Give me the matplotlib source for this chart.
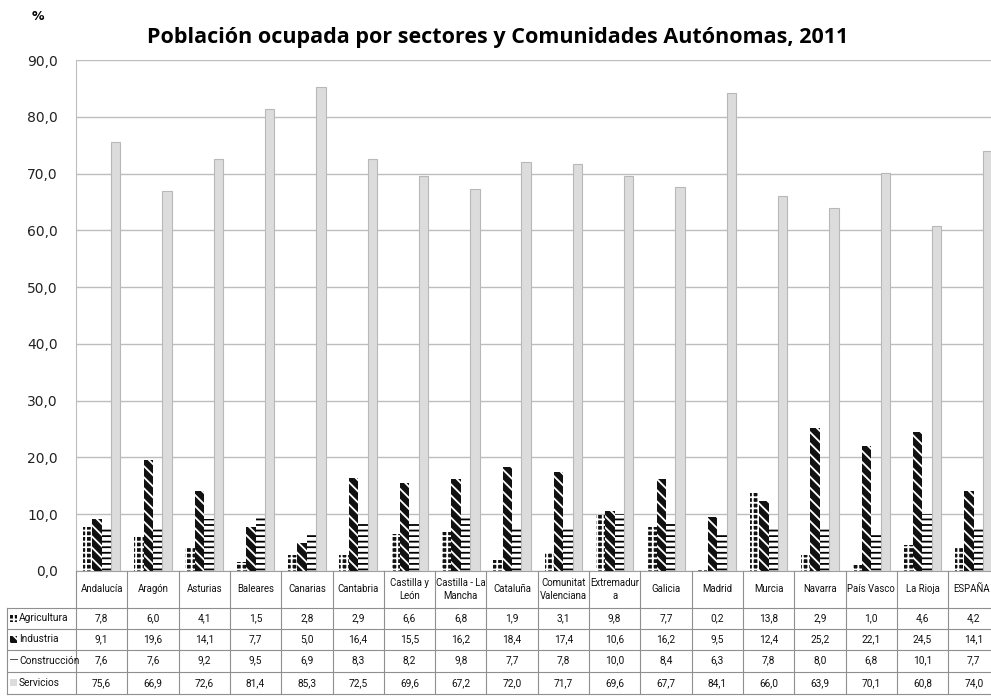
import numpy as np
import matplotlib.pyplot as plt
from matplotlib.patches import Rectangle
from matplotlib.lines import Line2D
from matplotlib import transforms

# data
comunidades = ["Andalucía", "Aragón", "Asturias", "Baleares", "Canarias", "Cantabria",
               "Castilla y\nLeón", "Castilla - La\nMancha", "Cataluña", "Comunitat\nValenciana",
               "Extremadur\na", "Galicia", "Madrid", "Murcia", "Navarra", "País Vasco",
               "La Rioja", "ESPAÑA"]
agricultura = [7.8, 6.0, 4.1, 1.5, 2.8, 2.9, 6.6, 6.8, 1.9, 3.1, 9.8, 7.7, 0.2, 13.8, 2.9, 1.0, 4.6, 4.2]
industria = [9.1, 19.6, 14.1, 7.7, 5.0, 16.4, 15.5, 16.2, 18.4, 17.4, 10.6, 16.2, 9.5, 12.4, 25.2, 22.1, 24.5, 14.1]
construccion = [7.6, 7.6, 9.2, 9.5, 6.9, 8.3, 8.2, 9.8, 7.7, 7.8, 10.0, 8.4, 6.3, 7.8, 8.0, 6.8, 10.1, 7.7]
servicios = [75.6, 66.9, 72.6, 81.4, 85.3, 72.5, 69.6, 67.2, 72.0, 71.7, 69.6, 67.7, 84.1, 66.0, 63.9, 70.1, 60.8, 74.0]
sectores = ["Agricultura", "Industria", "Construcción", "Servicios"]
yticks = np.arange(0, 91, 10)

plt.rcParams["hatch.linewidth"] = 1.3

W, H = 991, 696
fig = plt.figure(figsize=(W / 100, H / 100), dpi=100)

def fy(py):
    return 1 - py / H

ax_left, ax_right, ax_top, ax_bot = 76, 999.4, 60, 571
ax = fig.add_axes([ax_left / W, fy(ax_bot), (ax_right - ax_left) / W, (ax_bot - ax_top) / H])

n = len(comunidades)
x = np.arange(n)
w = 0.183
styles = [
    dict(facecolor="#111111", edgecolor="white", hatch="+++", linewidth=0),
    dict(facecolor="#111111", edgecolor="white", hatch="\\\\\\", linewidth=0),
    dict(facecolor="white", edgecolor="black", hatch="---", linewidth=0),
    dict(facecolor="#dcdcdc", edgecolor="#b8b8b8", linewidth=0.8),
]
series = [agricultura, industria, construccion, servicios]
for k, (vals, st) in enumerate(zip(series, styles)):
    ax.bar(x + (k - 1.5) * w, vals, width=w, zorder=3, **st)

ax.set_xlim(-0.5, n - 0.5)
ax.set_ylim(0, 90)
ax.set_yticks(yticks)
ax.set_yticklabels([f"{v:.1f}".replace(".", ",") for v in yticks], fontsize=10, color="#222222")
ax.tick_params(axis="y", length=0, pad=13)
ax.set_xticks([])
ax.grid(axis="y", color="#bdbdbd", linewidth=1, zorder=0)
for s in ["top", "right"]:
    ax.spines[s].set_visible(False)
ax.spines["left"].set_color("#bdbdbd")
ax.spines["bottom"].set_color("#a0a0a0")

fig.text(498 / W, fy(38), "Población ocupada por sectores y Comunidades Autónomas, 2011",
         ha="center", va="center", fontsize=15.5, fontweight="bold", family="Open Sans")
fig.text(38 / W, fy(16), "%", ha="center", va="center", fontsize=9, fontweight="bold")

# data table under the axes
tr = transforms.blended_transform_factory(ax.transData, fig.transFigure)
tfont = dict(family=["Roboto", "DejaVu Sans"], fontsize=7.3, color="#111111")
hfont = dict(tfont, fontsize=6.9)
line_c = "#8f8f8f"
row_lines = [608, 628.5, 649.5, 671.5, 694]
row_mid = [(row_lines[i] + row_lines[i + 1]) / 2 for i in range(4)]

for i in range(n + 1):
    fig.add_artist(Line2D([i - 0.5, i - 0.5], [fy(ax_bot), fy(694)], transform=tr, color=line_c, lw=0.8))
for py in row_lines:
    fig.add_artist(Line2D([7 / W, 1], [fy(py), fy(py)], transform=fig.transFigure, color=line_c, lw=0.8))
fig.add_artist(Line2D([7 / W, 7 / W], [fy(608), fy(694)], transform=fig.transFigure, color=line_c, lw=0.8))

for i, name in enumerate(comunidades):
    fig.text(i - 0.04 * (i == n - 1), fy(589.5), name, transform=tr, ha="center", va="center",
             linespacing=1.3, **hfont)
    for r, vals in enumerate(series):
        fig.text(i, fy(row_mid[r]), f"{vals[i]:.1f}".replace(".", ","), transform=tr,
                 ha="center", va="center", **tfont)

for r, name in enumerate(sectores):
    st = dict(styles[r])
    st["linewidth"] = 0
    if r == 2:
        key = Rectangle((10 / W, fy(row_mid[r] - 0.5)), 8 / W, 1.5 / H, transform=fig.transFigure,
                        facecolor="#555555", linewidth=0)
    else:
        key = Rectangle((10 / W, fy(row_mid[r] + 3.5)), 7 / W, 7 / H, transform=fig.transFigure, **st)
    fig.add_artist(key)
    fig.text(19 / W, fy(row_mid[r]), name, ha="left", va="center", **tfont)

fig.savefig("out.png", dpi=100)
